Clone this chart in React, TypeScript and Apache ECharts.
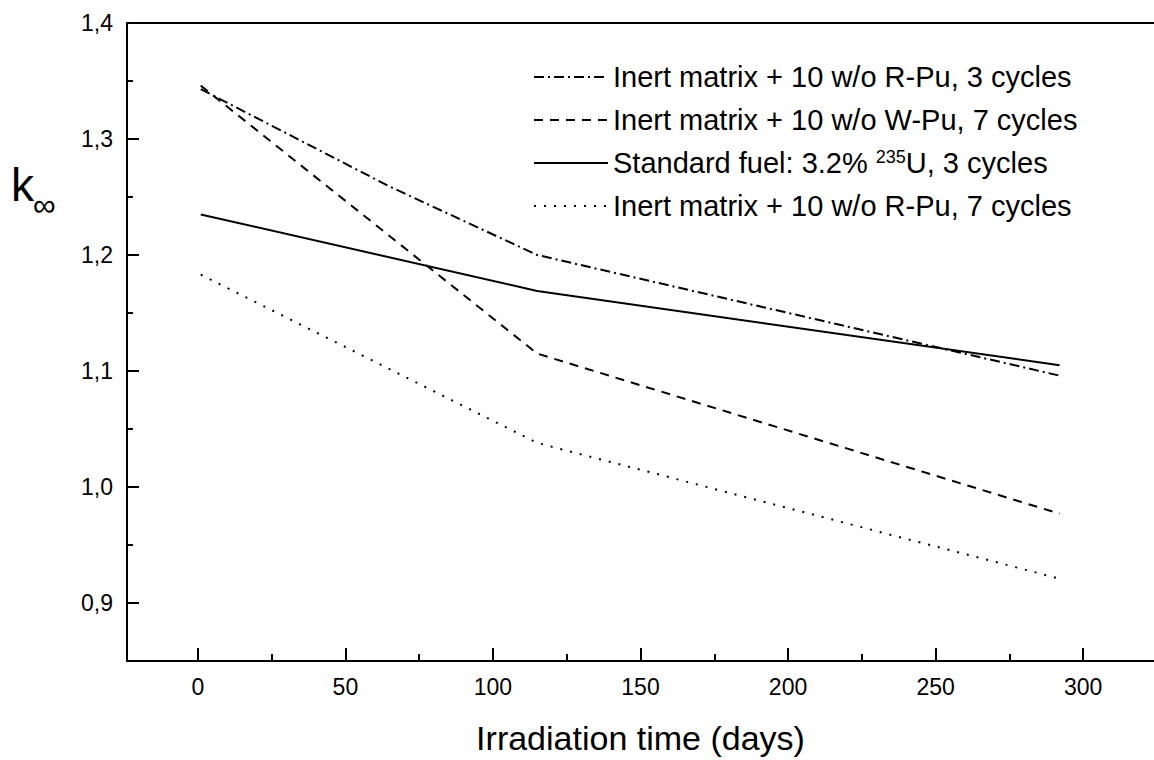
import React, { useEffect, useRef } from "react";
import * as echarts from "echarts";

// ---- data ----
const seriesNames = [
  "Inert matrix + 10 w/o R-Pu, 3 cycles",
  "Inert matrix + 10 w/o W-Pu, 7 cycles",
  "Standard fuel: 3.2% 235U, 3 cycles",
  "Inert matrix + 10 w/o R-Pu, 7 cycles",
];
const rPu3Days = [1, 65, 115, 292];
const rPu3K = [1.343, 1.259, 1.2, 1.096];
const wPu7Days = [1, 115, 292];
const wPu7K = [1.346, 1.115, 0.977];
const stdDays = [1, 115, 292];
const stdK = [1.235, 1.169, 1.105];
const rPu7Days = [1, 115, 292];
const rPu7K = [1.183, 1.038, 0.921];

const xMajorTicks = [0, 50, 100, 150, 200, 250, 300];
const xMinorTicks = [25, 75, 125, 175, 225, 275];
const yMajorTicks = [0.9, 1.0, 1.1, 1.2, 1.3, 1.4];
const yMinorTicks = [0.95, 1.05, 1.15, 1.25, 1.35];

const FONT = "'Liberation Sans', Arial, sans-serif";

function pairs(xs: number[], ys: number[]) {
  return xs.map((x, i) => [x, ys[i]]);
}

export default function App() {
  const ref = useRef<HTMLDivElement>(null);
  useEffect(() => {
    if (!ref.current) return;
    const chart = echarts.init(ref.current, undefined, { renderer: "svg" });
    const black = "#000";
    const xCommon = { type: "value", min: -24, max: 324, gridIndex: 0 };
    const yCommon = { type: "value", min: 0.85, max: 1.4, gridIndex: 0 };
    const lineCommon = (name: string, data: number[][], type: any, width = 2) => ({
      name,
      type: "line",
      data,
      xAxisIndex: 0,
      yAxisIndex: 0,
      symbol: "none",
      showSymbol: false,
      lineStyle: { color: black, width, type },
      itemStyle: { color: black },
      emphasis: { disabled: true },
    });
    chart.setOption({
      animation: false,
      backgroundColor: "#fff",
      textStyle: { fontFamily: FONT, color: black },
      grid: { left: 127, top: 23, width: 1027, height: 643, containLabel: false },
      legend: {
        orient: "vertical",
        left: 528,
        top: 57,
        itemWidth: 74,
        itemHeight: 14,
        itemGap: 13,
        selectedMode: false,
        data: seriesNames,
        itemStyle: { opacity: 0, borderWidth: 0 },
        textStyle: {
          fontFamily: FONT,
          fontSize: 29,
          lineHeight: 30,
          color: black,
          rich: {
            sup: { fontSize: 18, lineHeight: 30, verticalAlign: "top", fontFamily: FONT, color: black },
          },
        },
        formatter: (name: string) =>
          name === seriesNames[2] ? "Standard fuel: 3.2% {sup|235}U, 3 cycles" : name,
      },
      xAxis: [
        {
          ...xCommon,
          position: "bottom",
          axisLine: { show: true, onZero: false, lineStyle: { color: black, width: 2 } },
          axisTick: { show: true, inside: true, length: 13, customValues: xMajorTicks, lineStyle: { color: black, width: 2 } },
          axisLabel: { show: true, customValues: xMajorTicks, fontSize: 23, color: black, margin: 14, fontFamily: FONT },
          splitLine: { show: false },
          name: "Irradiation time (days)",
          nameLocation: "middle",
          nameGap: 60,
          nameTextStyle: { fontSize: 34, color: black, fontFamily: FONT },
        },
        {
          ...xCommon,
          position: "bottom",
          axisLine: { show: false, onZero: false },
          axisTick: { show: true, inside: true, length: 7, customValues: xMinorTicks, lineStyle: { color: black, width: 2 } },
          axisLabel: { show: false },
          splitLine: { show: false },
        },
        {
          ...xCommon,
          position: "top",
          axisLine: { show: true, onZero: false, lineStyle: { color: black, width: 2 } },
          axisTick: { show: false },
          axisLabel: { show: false },
          splitLine: { show: false },
        },
      ],
      yAxis: [
        {
          ...yCommon,
          position: "left",
          axisLine: { show: true, onZero: false, lineStyle: { color: black, width: 2 } },
          axisTick: { show: true, inside: true, length: 12, customValues: yMajorTicks, lineStyle: { color: black, width: 2 } },
          axisLabel: {
            show: true,
            customValues: yMajorTicks,
            fontSize: 23,
            color: black,
            margin: 14,
            fontFamily: FONT,
            formatter: (v: number) => v.toFixed(1).replace(".", ","),
          },
          splitLine: { show: false },
        },
        {
          ...yCommon,
          position: "left",
          axisLine: { show: false, onZero: false },
          axisTick: { show: true, inside: true, length: 6, customValues: yMinorTicks, lineStyle: { color: black, width: 2 } },
          axisLabel: { show: false },
          splitLine: { show: false },
        },
      ],
      graphic: [
        { type: "text", left: 11, top: 162, style: { text: "k", fontSize: 46, fontFamily: FONT, fill: black } },
        { type: "text", left: 33, top: 189, style: { text: "∞", fontSize: 32, fontFamily: FONT, fill: black } },
      ],
      series: [
        lineCommon(seriesNames[0], pairs(rPu3Days, rPu3K), [10, 4, 2, 4]),
        lineCommon(seriesNames[1], pairs(wPu7Days, wPu7K), [9, 7]),
        lineCommon(seriesNames[2], pairs(stdDays, stdK), "solid"),
        lineCommon(seriesNames[3], pairs(rPu7Days, rPu7K), [2, 8]),
      ],
    });
    return () => chart.dispose();
  }, []);
  return (
    <div
      ref={ref}
      style={{ position: "absolute", left: 0, top: 0, width: 1154, height: 760, background: "#fff" }}
    />
  );
}
